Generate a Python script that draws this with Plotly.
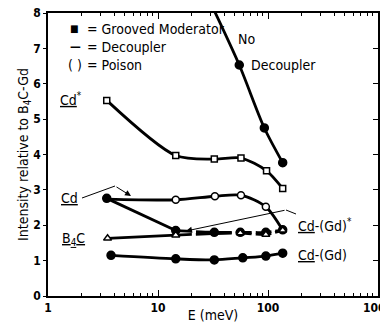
import plotly.graph_objects as go

# ---- data ----
nodec_x = [31.0, 54.8, 92.6, 136.0]
nodec_y = [8.2, 6.53, 4.75, 3.77]

cdstar_x = [3.42, 14.5, 32.5, 56.8, 97.0, 136.0]
cdstar_y = [5.53, 3.97, 3.87, 3.90, 3.54, 3.04]

cd_x = [3.42, 14.5, 32.9, 56.8, 95.6, 136.0]
cd_y = [2.74, 2.72, 2.82, 2.85, 2.52, 1.86]

cdgdstar_x = [3.42, 14.5, 32.5, 56.0, 95.6, 136.0]
cdgdstar_y = [2.76, 1.85, 1.80, 1.80, 1.80, 1.87]

b4c_x = [3.48, 14.5, 56.0, 95.6, 136.0]
b4c_y = [1.63, 1.72, 1.78, 1.74, 1.86]

cdgd_x = [3.74, 14.5, 32.5, 59.0, 95.6, 136.0]
cdgd_y = [1.15, 1.05, 1.02, 1.08, 1.13, 1.21]

xtick_vals = [1, 10, 100, 1000]
xtick_text = ["1", "10", "100", "1000"]
xminor_vals = [m * d for d in (1, 10, 100) for m in range(2, 10)]
ytick_vals = [0, 1, 2, 3, 4, 5, 6, 7, 8]

FONT = "DejaVu Sans Condensed, DejaVu Sans, sans-serif"
BLK = "black"
LW = 2.8

# page body has an 8px margin: figure sized/margined to compensate
PAGE_OFF = 8
PL, PR, PT, PB = 48, 378, 13, 296   # target plot-area pixels in the window

fig = go.Figure()

def line(x, y, dash="solid"):
    fig.add_trace(go.Scatter(x=x, y=y, mode="lines", line=dict(color=BLK, width=LW, dash=dash, shape="spline", smoothing=0.8),
                             hoverinfo="skip", showlegend=False))

def marks(x, y, symbol, size, fill=BLK, lw=1.5):
    fig.add_trace(go.Scatter(x=x, y=y, mode="markers",
                             marker=dict(symbol=symbol, size=size, color=fill, line=dict(color=BLK, width=lw)),
                             hoverinfo="skip", showlegend=False))

line(nodec_x, nodec_y)
marks(nodec_x[1:], nodec_y[1:], "circle", 8)

line(cdstar_x, cdstar_y)
marks(cdstar_x, cdstar_y, "square", 6, fill="white")

line(cd_x, cd_y)
marks(cd_x[1:-1], cd_y[1:-1], "circle", 7, fill="white")

line(cdgdstar_x[:2], cdgdstar_y[:2])
line(cdgdstar_x[1:], cdgdstar_y[1:], dash="16px,4px")
marks(cdgdstar_x, cdgdstar_y, "circle", 8)

line(b4c_x[:2], b4c_y[:2])
line(b4c_x[1:], b4c_y[1:], dash="16px,4px")
marks(b4c_x, b4c_y, "triangle-up", 7, fill="white")

line(cdgd_x, cdgd_y)
marks(cdgd_x, cdgd_y, "circle", 8)

# invisible trace to anchor mirror axes
fig.add_trace(go.Scatter(x=[1, 1000], y=[0, 8], xaxis="x2", yaxis="y2", mode="markers",
                         marker=dict(opacity=0), hoverinfo="skip", showlegend=False))

# ---- annotations ----
def txt(x, y, s, size=14, xanchor="left"):
    fig.add_annotation(xref="paper", yref="paper", x=x, y=y, text=s, showarrow=False,
                       font=dict(family=FONT, size=size, color=BLK), xanchor=xanchor, yanchor="middle",
                       borderpad=0)

def px(xp, yp):
    return ((xp - PL) / float(PR - PL), (PB - yp) / float(PB - PT))

def arrow(tip, tail):
    t = px(*tip)
    fig.add_annotation(xref="paper", yref="paper", x=t[0], y=t[1], ax=tail[0] - tip[0], ay=tail[1] - tip[1],
                       text="", showarrow=True, arrowhead=2, arrowsize=1.2, arrowwidth=1, arrowcolor=BLK)

def seg(p0, p1):
    a = px(*p0); b = px(*p1)
    fig.add_shape(type="line", xref="paper", yref="paper", x0=a[0], y0=a[1], x1=b[0], y1=b[1],
                  line=dict(color=BLK, width=1))

# legend block
p = px(74, 29); txt(p[0], p[1], "■", size=10, xanchor="center")
p = px(75, 47); txt(p[0], p[1], "<b>—</b>", size=12, xanchor="center")
p = px(75, 65); txt(p[0], p[1], "( )", size=14, xanchor="center")
p = px(86, 29); txt(p[0], p[1], "= Grooved Moderator")
p = px(86, 47); txt(p[0], p[1], "= Decoupler")
p = px(86, 65); txt(p[0], p[1], "= Poison")
# no decoupler
p = px(237, 39); txt(p[0], p[1], "No", size=14)
p = px(250, 65); txt(p[0], p[1], "Decoupler", size=14)
# curve labels
p = px(59, 99); txt(p[0], p[1], "<u>Cd</u><sup>*</sup>", size=14)
p = px(60, 198); txt(p[0], p[1], "<u>Cd</u>", size=14)
p = px(61, 239); txt(p[0], p[1], "<u>B<sub>4</sub>C</u>", size=14)
p = px(297, 225); txt(p[0], p[1], "<u>Cd</u>-(Gd)<sup>*</sup>", size=14)
p = px(297, 255); txt(p[0], p[1], "<u>Cd</u>-(Gd)", size=14)

# pointer lines
seg((82, 198), (115, 186))
arrow((131, 196), (115, 186))
seg((296, 214), (286, 210))
arrow((186, 231), (286, 210))

W, H = 388 - PAGE_OFF, 323 - PAGE_OFF
axfont = dict(family=FONT, size=12, color=BLK, weight="bold")
fig.update_layout(
    width=W, height=H,
    margin=dict(l=PL - PAGE_OFF, r=388 - PR, t=PT - PAGE_OFF, b=323 - PB),
    paper_bgcolor="white", plot_bgcolor="white",
    font=dict(family=FONT, color=BLK),
    xaxis=dict(type="log", range=[0, 3], tickvals=xtick_vals, ticktext=xtick_text, automargin=False,
               ticklabeloverflow="allow",
               ticks="inside", ticklen=6, tickwidth=1, tickcolor=BLK,
               minor=dict(tickvals=xminor_vals, ticks="inside", ticklen=3, tickcolor=BLK, tickwidth=1),
               showgrid=False, zeroline=False, showline=True, linecolor=BLK, linewidth=1.5,
               tickfont=axfont,
               title=dict(text="E (meV)", font=dict(family=FONT, size=14, color=BLK), standoff=0)),
    yaxis=dict(range=[0, 8], tickvals=ytick_vals, ticks="outside", ticklen=3, tickwidth=1, tickcolor=BLK,
               automargin=False, ticklabeloverflow="allow",
               showgrid=False, zeroline=False, showline=True, linecolor=BLK, linewidth=1.5,
               tickfont=axfont,
               title=dict(text="Intensity relative to B<sub>4</sub>C-Gd", font=dict(family=FONT, size=14, color=BLK), standoff=0)),
    xaxis2=dict(type="log", range=[0, 3], overlaying="x", side="top", tickvals=xtick_vals, automargin=False,
                ticks="inside", ticklen=6, tickcolor=BLK, showticklabels=False,
                minor=dict(tickvals=xminor_vals, ticks="inside", ticklen=3, tickcolor=BLK),
                showgrid=False, zeroline=False, showline=True, linecolor=BLK, linewidth=1.5),
    yaxis2=dict(range=[0, 8], overlaying="y", side="right", tickvals=ytick_vals, ticks="inside", ticklen=5,
                automargin=False,
                tickcolor=BLK, showticklabels=False, showgrid=False, zeroline=False,
                showline=True, linecolor=BLK, linewidth=1.5),
)

fig.write_html("out.html")
